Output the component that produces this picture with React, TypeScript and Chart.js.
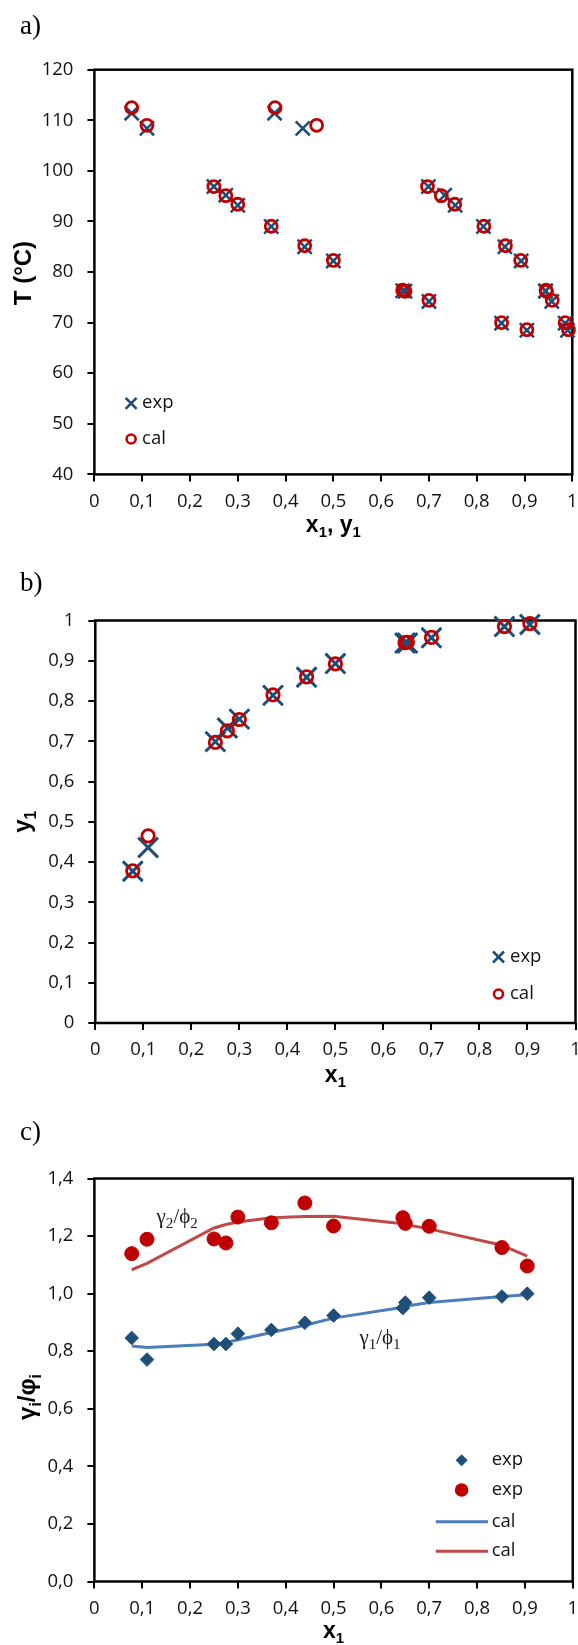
import React, { useEffect, useRef } from 'react';
import { Chart, registerables } from 'chart.js';

Chart.register(...registerables);

// ---------------- data ----------------
const x1Exp = [0.078, 0.11, 0.25, 0.275, 0.30, 0.37, 0.44, 0.50, 0.645, 0.65, 0.70, 0.852, 0.905];
const tExp = [111.4, 108.4, 96.9, 95.2, 93.2, 89.0, 85.0, 82.2, 76.3, 76.2, 74.2, 69.9, 68.5];
const tCal = [112.5, 109.0, 96.9, 95.1, 93.4, 89.05, 85.2, 82.3, 76.4, 76.2, 74.4, 70.0, 68.6];
const y1Exp = [0.377, 0.436, 0.699, 0.733, 0.755, 0.814, 0.859, 0.893, 0.944, 0.944, 0.957, 0.985, 0.99];
const y1Cal = [0.378, 0.465, 0.697, 0.726, 0.754, 0.815, 0.86, 0.892, 0.945, 0.946, 0.958, 0.985, 0.992];

const g1Exp = [0.846, 0.771, 0.825, 0.825, 0.861, 0.874, 0.899, 0.924, 0.95, 0.969, 0.986, 0.99, 1.0];
const g2Exp = [1.139, 1.189, 1.19, 1.176, 1.266, 1.246, 1.315, 1.235, 1.264, 1.244, 1.234, 1.16, 1.096];
const g1Cal = [0.818, 0.813, 0.824, 0.83, 0.84, 0.865, 0.89, 0.915, 0.953, 0.956, 0.969, 0.99, 0.996];
const g2Cal = [1.083, 1.105, 1.228, 1.24, 1.249, 1.264, 1.268, 1.269, 1.243, 1.24, 1.225, 1.168, 1.13];

const fracTicks = [0, 0.1, 0.2, 0.3, 0.4, 0.5, 0.6, 0.7, 0.8, 0.9, 1];
const tTicks = [40, 50, 60, 70, 80, 90, 100, 110, 120];
const gTicks = [0, 0.2, 0.4, 0.6, 0.8, 1.0, 1.2, 1.4];

// annotation anchors (data space) for panel c
const g2LabelAt = { x: 0.13, y: 1.265 };
const g1LabelAt = { x: 0.554, y: 0.846 };

// ---------------- styling ----------------
const CW = 600;
const SANS = "'Open Sans', 'Liberation Sans', sans-serif";
const TITLE_SANS = "'Liberation Sans', Arial, sans-serif";
const SERIF = "'Liberation Serif', 'DejaVu Serif', 'Times New Roman', serif";
const TICK_FONT = { family: SANS, size: 18.5 };
const BLUE = '#1F4E79';
const RED = '#C00000';
const LINE_BLUE = '#4A7EBB';
const LINE_RED = '#BE4B48';

const fmtFrac = (v: number) => {
  if (Math.abs(v) < 1e-9) return '0';
  if (Math.abs(v - 1) < 1e-9) return '1';
  return v.toFixed(1).replace('.', ',');
};
const fmt1 = (v: number) => v.toFixed(1).replace('.', ',');
const fmtInt = (v: number) => String(Math.round(v));

const pts = (xs: number[], ys: number[]) => xs.map((x, i) => ({ x, y: ys[i] }));

type Area = { l: number; t: number; r: number; b: number };

function axis(ticks: number[], fmt: (v: number) => string, fit: (s: any) => void, pad: number) {
  return {
    type: 'linear',
    min: ticks[0],
    max: ticks[ticks.length - 1],
    afterBuildTicks: (s: any) => {
      s.ticks = ticks.map((v) => ({ value: v }));
    },
    afterFit: fit,
    ticks: {
      callback: (v: any) => fmt(Number(v)),
      font: TICK_FONT,
      color: '#111',
      padding: pad,
      autoSkip: false,
      maxRotation: 0,
      minRotation: 0,
    },
    grid: {
      display: true,
      drawOnChartArea: false,
      drawTicks: true,
      tickLength: 7,
      color: '#000',
      lineWidth: 2,
    },
    border: { display: false },
  };
}

type Seg = { t: string; sub?: boolean };

function drawRich(
  ctx: CanvasRenderingContext2D,
  segs: Seg[],
  x: number,
  y: number,
  o: { size: number; family: string; weight?: string; align?: 'left' | 'center'; rotate?: boolean; color?: string; subScale?: number }
) {
  const weight = o.weight || 'normal';
  const subScale = o.subScale || 0.65;
  const font = (s: Seg) => `${weight} ${s.sub ? o.size * subScale : o.size}px ${o.family}`;
  ctx.save();
  ctx.translate(x, y);
  if (o.rotate) ctx.rotate(-Math.PI / 2);
  ctx.fillStyle = o.color || '#000';
  ctx.textBaseline = 'alphabetic';
  ctx.textAlign = 'left';
  let total = 0;
  const widths = segs.map((s) => {
    ctx.font = font(s);
    const w = ctx.measureText(s.t).width;
    total += w;
    return w;
  });
  let cx = o.align === 'center' ? -total / 2 : 0;
  segs.forEach((s, i) => {
    ctx.font = font(s);
    ctx.fillText(s.t, cx, s.sub ? o.size * 0.22 : 0);
    cx += widths[i];
  });
  ctx.restore();
}

function drawX(ctx: CanvasRenderingContext2D, x: number, y: number, h: number, lw: number) {
  ctx.save();
  ctx.strokeStyle = BLUE;
  ctx.lineWidth = lw;
  ctx.beginPath();
  ctx.moveTo(x - h, y - h);
  ctx.lineTo(x + h, y + h);
  ctx.moveTo(x + h, y - h);
  ctx.lineTo(x - h, y + h);
  ctx.stroke();
  ctx.restore();
}
function drawO(ctx: CanvasRenderingContext2D, x: number, y: number, r: number, lw: number) {
  ctx.save();
  ctx.strokeStyle = RED;
  ctx.lineWidth = lw;
  ctx.beginPath();
  ctx.arc(x, y, r, 0, Math.PI * 2);
  ctx.stroke();
  ctx.restore();
}
function legendText(ctx: CanvasRenderingContext2D, s: string, x: number, y: number) {
  ctx.save();
  ctx.font = `18.5px ${SANS}`;
  ctx.fillStyle = '#111';
  ctx.textBaseline = 'alphabetic';
  ctx.textAlign = 'left';
  ctx.fillText(s, x, y + 5);
  ctx.restore();
}

const framePlugin = {
  id: 'frame',
  beforeDatasetsDraw(chart: any) {
    const { ctx, chartArea } = chart;
    ctx.save();
    ctx.strokeStyle = '#000';
    ctx.lineWidth = 2.5;
    ctx.strokeRect(chartArea.left, chartArea.top, chartArea.right - chartArea.left, chartArea.bottom - chartArea.top);
    ctx.restore();
  },
};

function baseOptions(area: Area, top: number, height: number, xTicks: number[], xFmt: any, yTicks: number[], yFmt: any) {
  return {
    responsive: false,
    maintainAspectRatio: false,
    animation: false,
    devicePixelRatio: 1,
    layout: { padding: { left: 0, top: area.t - top, right: CW - area.r, bottom: 0 } },
    plugins: { legend: { display: false }, tooltip: { enabled: false } },
    events: [],
    scales: {
      x: axis(xTicks, xFmt, (s: any) => { s.height = top + height - area.b; }, 9),
      y: axis(yTicks, yFmt, (s: any) => { s.width = area.l; }, 14),
    },
  };
}

// ---------------- panel configs ----------------
const A_TOP = 0, A_H = 550;
const A_AREA: Area = { l: 94.4, t: 69.7, r: 572.3, b: 474.4 };
const B_TOP = 550, B_H = 550;
const B_AREA: Area = { l: 95.3, t: 620.5, r: 575.5, b: 1023 };
const C_TOP = 1100, C_H = 545;
const C_AREA: Area = { l: 94.4, t: 1178.5, r: 572.7, b: 1581.5 };

const TITLE = { size: 23, family: TITLE_SANS, weight: 'bold' };

function configA(): any {
  const xo = { pointStyle: 'crossRot', pointRadius: 10, pointBorderWidth: 2.6, pointBorderColor: BLUE, borderColor: BLUE, pointBackgroundColor: BLUE, clip: false, order: 2 };
  const oo = { pointStyle: 'circle', pointRadius: 6, pointBorderWidth: 2.8, pointBorderColor: RED, borderColor: RED, pointBackgroundColor: 'rgba(0,0,0,0)', backgroundColor: 'rgba(0,0,0,0)', clip: false, order: 1 };
  return {
    type: 'scatter',
    data: {
      datasets: [
        { label: 'exp', data: pts(x1Exp, tExp), ...xo },
        { label: 'exp', data: pts(y1Exp, tExp), ...xo },
        { label: 'cal', data: pts(x1Exp, tCal), ...oo },
        { label: 'cal', data: pts(y1Cal, tCal), ...oo },
      ],
    },
    options: baseOptions(A_AREA, A_TOP, A_H, fracTicks, fmtFrac, tTicks, fmtInt),
    plugins: [
      framePlugin,
      {
        id: 'decoA',
        afterDraw(chart: any) {
          const { ctx, chartArea: ca } = chart;
          drawX(ctx, ca.left + 36.7, ca.top + 333.6, 5.5, 2.6);
          legendText(ctx, 'exp', ca.left + 47.7, ca.top + 333.6);
          drawO(ctx, ca.left + 36.7, ca.top + 369.3, 4.5, 2.6);
          legendText(ctx, 'cal', ca.left + 47.7, ca.top + 369.3);
          drawRich(ctx, [{ t: 'x' }, { t: '1', sub: true }, { t: ', y' }, { t: '1', sub: true }], (ca.left + ca.right) / 2, ca.bottom + 58, { ...TITLE, align: 'center' });
          drawRich(ctx, [{ t: 'T (°C)' }], ca.left - 63, (ca.top + ca.bottom) / 2 + 1, { ...TITLE, size: 24, align: 'center', rotate: true });
        },
      },
    ],
  };
}

function configB(): any {
  const xo = { pointStyle: 'crossRot', pointRadius: 14, pointBorderWidth: 3, pointBorderColor: BLUE, borderColor: BLUE, pointBackgroundColor: BLUE, clip: false, order: 2 };
  const oo = { pointStyle: 'circle', pointRadius: 6.2, pointBorderWidth: 2.8, pointBorderColor: RED, borderColor: RED, pointBackgroundColor: 'rgba(0,0,0,0)', backgroundColor: 'rgba(0,0,0,0)', clip: false, order: 1 };
  return {
    type: 'scatter',
    data: {
      datasets: [
        { label: 'exp', data: pts(x1Exp, y1Exp), ...xo },
        { label: 'cal', data: pts(x1Exp, y1Cal), ...oo },
      ],
    },
    options: baseOptions(B_AREA, B_TOP, B_H, fracTicks, fmtFrac, fracTicks, fmtFrac),
    plugins: [
      framePlugin,
      {
        id: 'decoB',
        afterDraw(chart: any) {
          const { ctx, chartArea: ca } = chart;
          drawX(ctx, ca.left + 403.2, ca.top + 336.5, 5.5, 2.6);
          legendText(ctx, 'exp', ca.left + 414.7, ca.top + 336.5);
          drawO(ctx, ca.left + 403.2, ca.top + 373.5, 4.5, 2.6);
          legendText(ctx, 'cal', ca.left + 414.7, ca.top + 373.5);
          drawRich(ctx, [{ t: 'x' }, { t: '1', sub: true }], (ca.left + ca.right) / 2, ca.bottom + 59, { ...TITLE, align: 'center' });
          drawRich(ctx, [{ t: 'y' }, { t: '1', sub: true }], ca.left - 65, (ca.top + ca.bottom) / 2, { ...TITLE, size: 24, align: 'center', rotate: true });
        },
      },
    ],
  };
}

function configC(): any {
  return {
    type: 'scatter',
    data: {
      datasets: [
        { label: 'exp', data: pts(x1Exp, g1Exp), pointStyle: 'rectRot', pointRadius: 6.8, pointBorderWidth: 1, pointBorderColor: BLUE, pointBackgroundColor: BLUE, borderColor: BLUE, backgroundColor: BLUE, clip: false, order: 1 },
        { label: 'exp', data: pts(x1Exp, g2Exp), pointStyle: 'circle', pointRadius: 7, pointBorderWidth: 1, pointBorderColor: RED, pointBackgroundColor: RED, borderColor: RED, backgroundColor: RED, clip: false, order: 1 },
        { label: 'cal', data: pts(x1Exp, g1Cal), showLine: true, pointRadius: 0, borderColor: LINE_BLUE, borderWidth: 3, tension: 0, fill: false, clip: false, order: 2 },
        { label: 'cal', data: pts(x1Exp, g2Cal), showLine: true, pointRadius: 0, borderColor: LINE_RED, borderWidth: 3, tension: 0, fill: false, clip: false, order: 2 },
      ],
    },
    options: baseOptions(C_AREA, C_TOP, C_H, fracTicks, fmtFrac, gTicks, fmt1),
    plugins: [
      framePlugin,
      {
        id: 'decoC',
        afterDraw(chart: any) {
          const { ctx, chartArea: ca, scales } = chart;
          const mx = ca.left + 367.2;
          const tx = ca.left + 397.3;
          // diamond
          let y = ca.top + 281.7;
          ctx.save();
          ctx.fillStyle = BLUE;
          ctx.beginPath();
          ctx.moveTo(mx - 6, y);
          ctx.lineTo(mx, y - 6);
          ctx.lineTo(mx + 6, y);
          ctx.lineTo(mx, y + 6);
          ctx.closePath();
          ctx.fill();
          ctx.restore();
          legendText(ctx, 'exp', tx, y);
          y = ca.top + 311.5;
          ctx.save();
          ctx.fillStyle = RED;
          ctx.beginPath();
          ctx.arc(mx, y, 6.8, 0, Math.PI * 2);
          ctx.fill();
          ctx.restore();
          legendText(ctx, 'exp', tx, y);
          const lines: [string, number][] = [[LINE_BLUE, ca.top + 343.2], [LINE_RED, ca.top + 372.7]];
          lines.forEach(([c, ly]) => {
            ctx.save();
            ctx.strokeStyle = c;
            ctx.lineWidth = 3;
            ctx.beginPath();
            ctx.moveTo(ca.left + 341.4, ly);
            ctx.lineTo(ca.left + 393.6, ly);
            ctx.stroke();
            ctx.restore();
            legendText(ctx, 'cal', tx, ly);
          });
          // curve labels
          const sx = scales.x, sy = scales.y;
          drawRich(ctx, [{ t: 'γ' }, { t: '2', sub: true }, { t: '/ϕ' }, { t: '2', sub: true }], sx.getPixelForValue(g2LabelAt.x), sy.getPixelForValue(g2LabelAt.y) + 6, { size: 21, family: SERIF, align: 'left', color: '#1a1a1a', subScale: 0.72 });
          drawRich(ctx, [{ t: 'γ' }, { t: '1', sub: true }, { t: '/ϕ' }, { t: '1', sub: true }], sx.getPixelForValue(g1LabelAt.x), sy.getPixelForValue(g1LabelAt.y) + 6, { size: 21, family: SERIF, align: 'left', color: '#1a1a1a', subScale: 0.72 });
          // titles
          drawRich(ctx, [{ t: 'x' }, { t: '1', sub: true }], (ca.left + ca.right) / 2, ca.bottom + 56, { ...TITLE, align: 'center' });
          drawRich(ctx, [{ t: 'γ' }, { t: 'i', sub: true }, { t: '/φ' }, { t: 'i', sub: true }], ca.left - 59, ca.top + 218.5, { ...TITLE, size: 24, align: 'center', rotate: true });
        },
      },
    ],
  };
}

function Panel({ top, height, make }: { top: number; height: number; make: () => any }) {
  const ref = useRef<HTMLCanvasElement | null>(null);
  useEffect(() => {
    if (!ref.current) return;
    const chart = new Chart(ref.current, make());
    return () => chart.destroy();
  }, []);
  return (
    <canvas
      ref={ref}
      width={CW}
      height={height}
      style={{ position: 'absolute', left: 0, top, width: CW, height, display: 'block' }}
    />
  );
}

const labelStyle = (top: number): React.CSSProperties => ({
  position: 'absolute',
  left: 20,
  top,
  fontFamily: SERIF,
  fontSize: 27,
  lineHeight: '27px',
  margin: 0,
  color: '#000',
});

export default function App() {
  return (
    <div style={{ position: 'absolute', left: 0, top: 0, width: 578, height: 1645, overflow: 'hidden', background: '#fff' }}>
      <Panel top={A_TOP} height={A_H} make={configA} />
      <Panel top={B_TOP} height={B_H} make={configB} />
      <Panel top={C_TOP} height={C_H} make={configC} />
      <div style={labelStyle(12)}>a)</div>
      <div style={labelStyle(569)}>b)</div>
      <div style={labelStyle(1118)}>c)</div>
    </div>
  );
}
